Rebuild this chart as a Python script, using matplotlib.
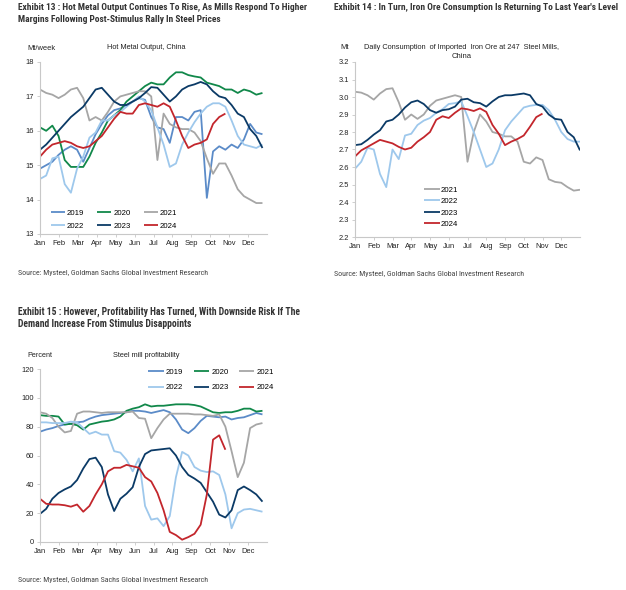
import numpy as np
import matplotlib
matplotlib.use("Agg")
import matplotlib.pyplot as plt
from matplotlib import font_manager

W, H = 626, 590

months = ['Jan', 'Feb', 'Mar', 'Apr', 'May', 'Jun',
          'Jul', 'Aug', 'Sep', 'Oct', 'Nov', 'Dec']
colors = {'2019': '#5b8bc8', '2020': '#11884a', '2021': '#a6a6a6',
          '2022': '#9ec8ec', '2023': '#0b3a66', '2024': '#c3262c'}

# Exhibit 13: hot metal output, Mt/week (one value per ~third of a month)
hot_2019 = [14.9, 15.0, 15.1, 15.3, 15.45, 15.55, 15.45, 15.1, 15.5, 15.9, 16.2, 16.45, 16.6,
            16.65, 16.75, 16.85, 16.95, 16.9, 16.4, 16.1, 16.05, 15.65, 16.4, 16.4, 16.3,
            16.55, 16.6, 14.05, 15.4, 15.55, 15.45, 15.6, 15.5, 15.75, 16.2, 15.95, 15.9]
hot_2020 = [16.1, 16.0, 16.15, 15.85, 15.15, 14.95, 14.95, 14.95, 15.25, 15.65, 15.95, 16.3,
            16.45, 16.6, 16.85, 17.0, 17.15, 17.3, 17.4, 17.35, 17.35, 17.55, 17.7, 17.7,
            17.62, 17.58, 17.55, 17.4, 17.35, 17.3, 17.2, 17.2, 17.1, 17.2, 17.15, 17.05, 17.1]
hot_2021 = [17.2, 17.1, 17.05, 16.95, 17.05, 17.2, 17.25, 16.95, 16.3, 16.4, 16.3, 16.55,
            16.85, 17.0, 17.05, 17.1, 17.15, 17.15, 17.0, 15.15, 16.5, 16.2, 16.1, 16.05,
            16.05, 15.95, 15.7, 15.2, 14.75, 15.05, 15.05, 14.7, 14.3, 14.1, 14.0, 13.9, 13.9]
hot_2022 = [14.6, 14.7, 15.2, 15.25, 14.45, 14.2, 14.9, 15.25, 15.8, 15.95, 16.3, 16.3,
            16.45, 16.55, 16.7, 16.85, 17.0, 16.85, 16.6, 16.1, 15.6, 14.95, 15.05, 15.6,
            15.95, 16.25, 16.5, 16.7, 16.8, 16.8, 16.7, 16.3, 15.85, 15.6, 15.55, 15.5, 15.6]
hot_2023 = [15.45, 15.6, 15.8, 16.0, 16.2, 16.4, 16.55, 16.7, 16.95, 17.2, 17.25, 17.05,
            16.85, 16.75, 16.75, 16.85, 16.95, 17.1, 17.27, 17.25, 17.05, 16.85, 17.0, 17.2,
            17.3, 17.35, 17.42, 17.35, 17.15, 17.0, 16.95, 16.75, 16.5, 16.4, 16.05, 15.85, 15.5]
hot_2024 = [15.25, 15.45, 15.6, 15.65, 15.7, 15.65, 15.55, 15.5, 15.55, 15.7, 15.85, 16.1,
            16.35, 16.55, 16.5, 16.5, 16.75, 16.8, 16.75, 16.7, 16.8, 16.7, 16.3, 15.85,
            15.5, 15.6, 15.65, 15.75, 16.2, 16.4, 16.5]

# Exhibit 14: daily consumption of imported iron ore, Mt
ore_2021 = [3.03, 3.025, 3.01, 2.985, 3.02, 3.045, 3.05, 2.97, 2.87, 2.9, 2.875, 2.9, 2.95,
            2.98, 2.99, 3.0, 3.01, 3.0, 2.63, 2.8, 2.9, 2.86, 2.8, 2.79, 2.775, 2.775, 2.745,
            2.63, 2.62, 2.655, 2.64, 2.53, 2.515, 2.51, 2.485, 2.465, 2.47]
ore_2022 = [2.59, 2.63, 2.71, 2.7, 2.56, 2.485, 2.7, 2.645, 2.78, 2.79, 2.84, 2.865, 2.88,
            2.91, 2.93, 2.96, 2.965, 2.975, 2.89, 2.8, 2.7, 2.6, 2.62, 2.7, 2.81, 2.86, 2.9,
            2.94, 2.95, 2.955, 2.955, 2.925, 2.87, 2.8, 2.76, 2.745, 2.745]
ore_2023 = [2.725, 2.73, 2.755, 2.785, 2.81, 2.86, 2.87, 2.9, 2.94, 2.97, 2.98, 2.96, 2.925,
            2.91, 2.925, 2.93, 2.945, 2.985, 2.99, 2.97, 2.965, 2.945, 2.975, 3.0, 3.01, 3.01,
            3.015, 3.02, 3.01, 2.96, 2.945, 2.9, 2.875, 2.87, 2.8, 2.77, 2.695]
ore_2024 = [2.66, 2.695, 2.715, 2.735, 2.755, 2.745, 2.735, 2.715, 2.7, 2.71, 2.745, 2.77,
            2.8, 2.87, 2.89, 2.88, 2.91, 2.935, 2.93, 2.92, 2.935, 2.915, 2.84, 2.79, 2.725,
            2.745, 2.76, 2.78, 2.83, 2.885, 2.905]

# Exhibit 15: steel mill profitability, percent
prof_2019 = [76.5, 78, 79, 80.5, 81.5, 82, 83, 83.5, 85.5, 87, 88, 88.5, 89, 89.5, 90, 91, 91,
             90.5, 89.5, 90.5, 91.5, 90, 85, 78, 75.5, 79, 84, 87.5, 87, 86.5, 87, 85, 86,
             86.5, 88, 89.5, 88.5]
prof_2020 = [88, 87.5, 87.5, 87, 81.5, 82, 81, 78, 81.5, 82.5, 83.5, 84, 85, 87, 91, 92.5,
             93.5, 95.5, 94, 94.5, 94.5, 95, 95.5, 95.5, 95.5, 95, 94, 92, 90, 89.5, 90, 90,
             91, 92.5, 92.5, 90.5, 91]
prof_2021 = [90, 89, 86, 80, 76, 77, 89, 90.5, 90.5, 90, 89.5, 90, 90, 90, 90, 90.5, 86, 85.5,
             72, 79, 85, 89, 89, 89, 89, 88.5, 88.5, 88, 87.5, 88.5, 80, 63, 45, 55, 79, 81.5,
             82.5]
prof_2022 = [83, 83, 82.5, 82.5, 82.5, 83.5, 83, 79, 75, 76.5, 74.5, 74.5, 63, 62, 57, 49, 58,
             25, 15.5, 16.4, 11, 18, 45, 62.5, 60, 52, 49.5, 48.5, 49, 46.5, 33, 9.5, 20, 22.5,
             23, 22, 21]
prof_2023 = [19.5, 23, 30, 34, 36.5, 38.5, 43, 51, 57.5, 58.5, 52, 33, 21.5, 30, 33.5, 38, 52,
             61, 63.5, 64, 64.5, 65, 60, 52, 46.5, 44, 41, 34.5, 28, 19, 17, 22, 36, 38.5, 36,
             33, 28]
prof_2024 = [30, 26.5, 26, 26, 25.5, 24.5, 26, 21, 25, 33, 40, 49, 51.5, 51.5, 53.5, 52.5,
             51.5, 45, 42, 34, 22, 7, 4.8, 1.6, 3.4, 5.7, 12, 33, 71, 74, 64]

source = "Source: Mysteel, Goldman Sachs Global Investment Research"

installed = {f.name for f in font_manager.fontManager.ttflist}
narrow = next((n for n in ['Liberation Sans Narrow', 'DejaVu Sans Condensed',
                           'Roboto Condensed', 'Open Sans Condensed'] if n in installed),
              'Liberation Sans')
plt.rcParams['font.family'] = ['Liberation Sans', 'DejaVu Sans']

fig = plt.figure(figsize=(W / 100, H / 100), dpi=100)
renderer = fig.canvas.get_renderer()


def put_text(x, y, s, width=None, size=6, **kw):
    t = fig.text(x / W, 1 - y / H, s, va='baseline', fontsize=size, **kw)
    if width:
        w = t.get_window_extent(renderer).width
        t.set_fontsize(size * width / w)
    return t


def make_axes(l, t, r, b, ylim, yticks, fmt):
    ax = fig.add_axes([l / W, 1 - b / H, (r - l) / W, (b - t) / H])
    ax.set_xlim(0, 12)
    ax.set_ylim(*ylim)
    ax.set_xticks(range(12))
    ax.set_xticklabels(months)
    ax.set_yticks(yticks)
    ax.set_yticklabels([fmt.format(v) for v in yticks])
    for s in ['top', 'right']:
        ax.spines[s].set_visible(False)
    for s in ['left', 'bottom']:
        ax.spines[s].set_color('#c8c8c8')
        ax.spines[s].set_linewidth(0.8)
    ax.tick_params(length=2.5, width=0.6, color='#c8c8c8', labelsize=5.4,
                   labelcolor='#222222', pad=2)
    ax.patch.set_alpha(0)
    return ax


def draw(ax, series, step):
    for year, vals in series:
        ax.plot(np.arange(len(vals)) * step, vals, color=colors[year], lw=1.3,
                label=year, solid_joinstyle='round', solid_capstyle='butt')


step_weekly = 11.76 / 36

# ---- Exhibit 13
ax1 = make_axes(40, 62, 267, 234, (13, 18), [13, 14, 15, 16, 17, 18], '{:.0f}')
draw(ax1, [('2019', hot_2019), ('2020', hot_2020), ('2021', hot_2021),
           ('2022', hot_2022), ('2023', hot_2023), ('2024', hot_2024)], step_weekly)
h, lb = ax1.get_legend_handles_labels()
order = [0, 3, 1, 4, 2, 5]
ax1.legend([h[i] for i in order], [lb[i] for i in order], ncol=3, frameon=False,
           loc='lower left', bbox_to_anchor=(0.03, 0.0), fontsize=5.6,
           handlelength=1.8, handletextpad=0.25, columnspacing=1.7,
           labelspacing=0.75, borderpad=0.2, borderaxespad=0.3)

# ---- Exhibit 14
ax2 = make_axes(355, 62, 580, 237, (2.2, 3.2), np.round(np.arange(2.2, 3.21, 0.1), 1),
                '{:.1f}')
draw(ax2, [('2021', ore_2021), ('2022', ore_2022), ('2023', ore_2023),
           ('2024', ore_2024)], 1 / 3)
ax2.legend(frameon=False, loc='lower left', bbox_to_anchor=(0.29, 0.03), fontsize=5.6,
           handlelength=2.0, handletextpad=0.1, labelspacing=0.5,
           borderpad=0.2, borderaxespad=0.3)

# ---- Exhibit 15
ax3 = make_axes(40, 369, 267, 542, (0, 120), [0, 20, 40, 60, 80, 100, 120], '{:.0f}')
draw(ax3, [('2019', prof_2019), ('2020', prof_2020), ('2021', prof_2021),
           ('2022', prof_2022), ('2023', prof_2023), ('2024', prof_2024)], step_weekly)
h, lb = ax3.get_legend_handles_labels()
ax3.legend([h[i] for i in order], [lb[i] for i in order], ncol=3, frameon=False,
           loc='upper left', bbox_to_anchor=(0.46, 1.025), fontsize=5.6,
           handlelength=2.0, handletextpad=0.25, columnspacing=1.35,
           labelspacing=1.0, borderpad=0.2, borderaxespad=0.3)

# ---- texts
tkw = dict(family=[narrow, 'DejaVu Sans'], weight='bold', color='#333333')
t = put_text(18, 10, "Exhibit 13 : Hot Metal Output Continues To Rise, As Mills Respond To Higher",
             width=288, size=7, **tkw)
put_text(18, 22, "Margins Following Post-Stimulus Rally In Steel Prices",
         size=t.get_fontsize(), **tkw)
put_text(334, 10, "Exhibit 14 : In Turn, Iron Ore Consumption Is Returning To Last Year's Level",
         width=284, size=7, **tkw)
t = put_text(18, 315, "Exhibit 15 : However, Profitability Has Turned, With Downside Risk If The",
             width=280, size=7, **tkw)
put_text(18, 327, "Demand Increase From Stimulus Disappoints", size=t.get_fontsize(), **tkw)

skw = dict(family=[narrow, 'DejaVu Sans'], color='#444444')
put_text(18, 275, source, width=191, size=6, **skw)
put_text(334, 276, source, width=190, size=6, **skw)
put_text(18, 582, source, width=191, size=6, **skw)

lkw = dict(color='#222222')
put_text(27, 50, "Mt/week", width=28, size=5.5, **lkw)
put_text(107, 49, "Hot Metal Output, China", width=80, size=5.5, **lkw)
put_text(340, 49, "Mt", size=5.5, **lkw)
put_text(462, 49, "Daily Consumption  of Imported  Iron Ore at 247  Steel Mills,",
         width=196, size=5.5, ha='center', **lkw)
put_text(462, 58, "China", size=5.5, ha='center', **lkw)
put_text(27, 357, "Percent", width=25, size=5.5, **lkw)
put_text(113, 357, "Steel mill profitability", width=68, size=5.5, **lkw)

fig.savefig("out.png", dpi=100)
